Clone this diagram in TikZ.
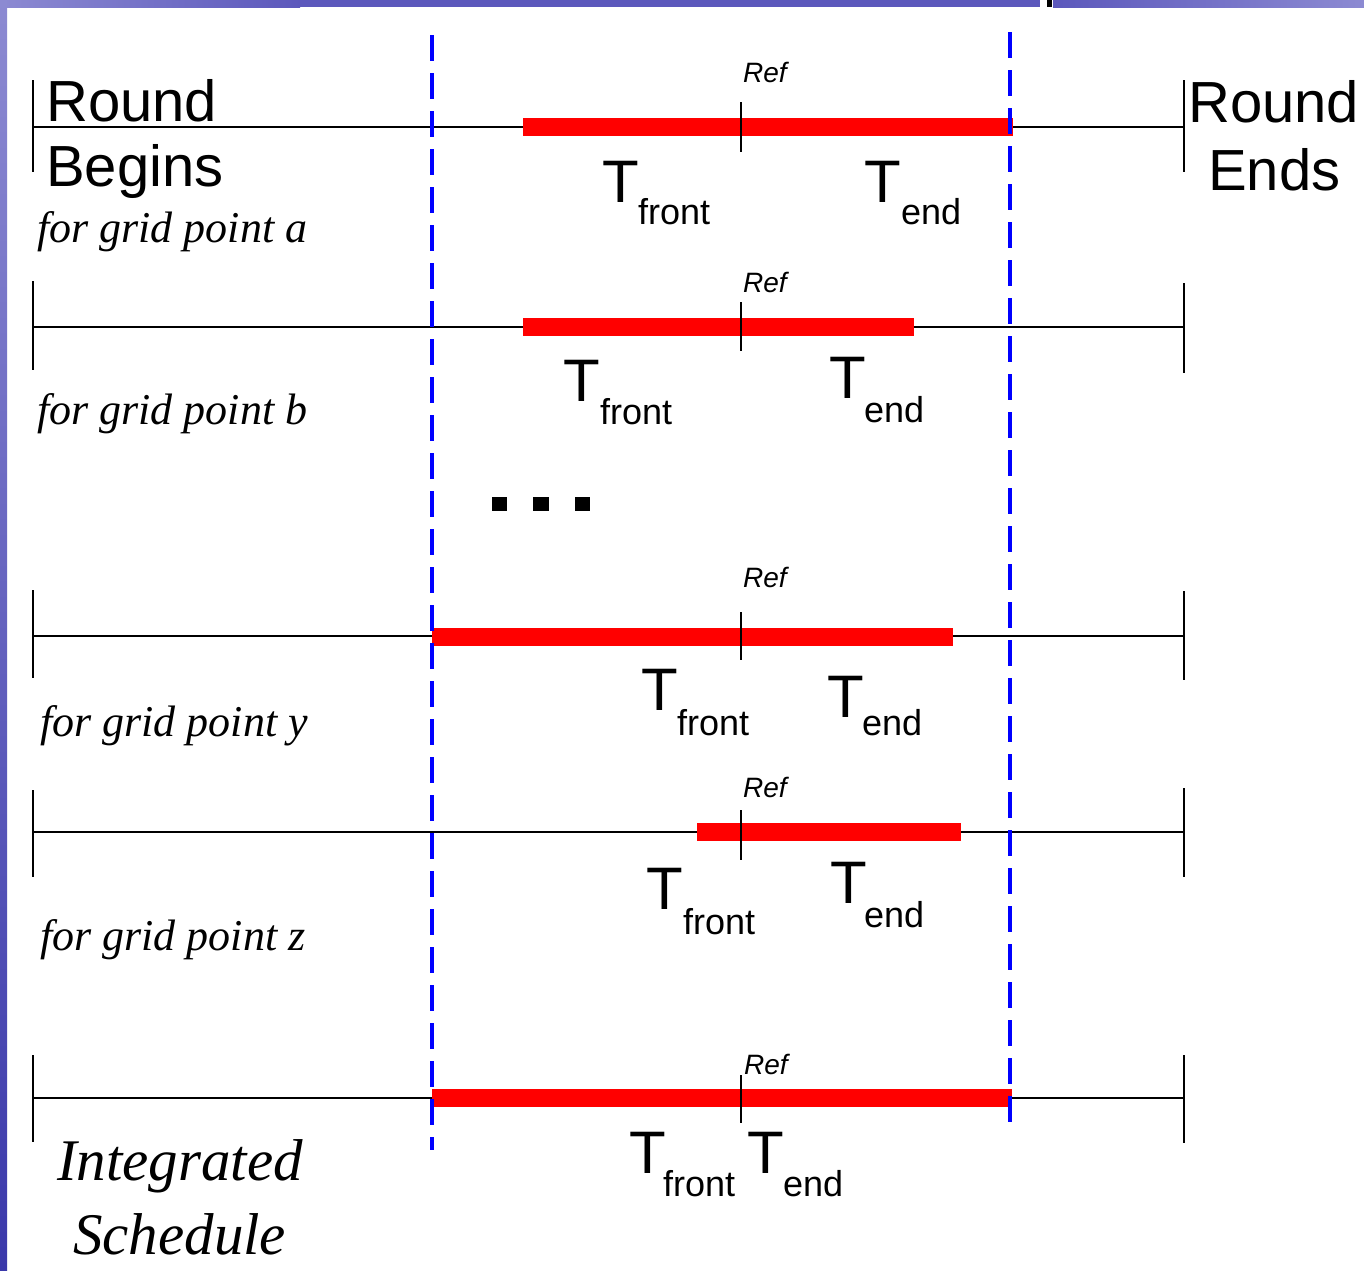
\documentclass[tikz,border=0pt]{standalone}
\usepackage{fontspec}
\setmainfont{Liberation Serif}
\setsansfont{Liberation Sans}
\definecolor{slidetop}{RGB}{92,88,188}
\definecolor{slidelight}{RGB}{140,138,210}
\definecolor{slidedark}{RGB}{58,56,170}
\begin{document}
\begin{tikzpicture}[x=1pt,y=-1pt,
  tline/.style={line width=2.2pt,black},
  tickln/.style={line width=2.2pt,black},
  reftick/.style={line width=1.8pt,black},
  redbar/.style={line width=18pt,red},
  bluedash/.style={line width=3.5pt,blue,dash pattern=on 26pt off 12pt},
  bigT/.style={font=\sffamily\fontsize{60}{60}\selectfont,anchor=base west,inner sep=0pt},
  subT/.style={font=\sffamily\fontsize{36}{36}\selectfont,anchor=base west,inner sep=0pt},
  reflab/.style={font=\sffamily\itshape\fontsize{28}{28}\selectfont,anchor=base west,inner sep=0pt},
  gridlab/.style={font=\rmfamily\itshape\fontsize{44}{44}\selectfont,anchor=base west,inner sep=0pt},
  roundlab/.style={font=\sffamily\fontsize{58}{58}\selectfont,anchor=base west,inner sep=0pt},
  intlab/.style={font=\rmfamily\itshape\fontsize{59}{59}\selectfont,anchor=base west,inner sep=0pt},
  dotsq/.style={fill=black,draw=none}
]
% canvas and slide frame
\path[use as bounding box,fill=white] (0,0) rectangle (1364,1270);
\shade[left color=slidelight,right color=slidetop] (0,0) rectangle (300,7);
\fill[slidetop] (300,0) rectangle (1040,7);
\shade[left color=slidetop,right color=slidelight] (1053,0) rectangle (1364,7);
\fill[black] (1047,0) rectangle (1052,7);
\shade[top color=slidelight,bottom color=slidedark] (0,0) rectangle (7,1270);

% ---- row a ----
\coordinate (aL) at (33,127);  \coordinate (aR) at (1184,127);
\coordinate (aLt) at (33,80);  \coordinate (aLb) at (33,172);
\coordinate (aRt) at (1184,80); \coordinate (aRb) at (1184,172);
\coordinate (aS) at (523,127); \coordinate (aE) at (1013,127);
\coordinate (aFt) at (741,102); \coordinate (aFb) at (741,152);
\draw[tline] (aL) -- (aR);
\draw[tickln] (aLt) -- (aLb);
\draw[tickln] (aRt) -- (aRb);
\draw[redbar] (aS) -- (aE);
\draw[reftick] (aFt) -- (aFb);
\node[reflab] (aRef) at (743,82) {Ref};
\node[bigT] (aT1) at (602,202) {T};
\node[subT] (aT1s) at (638,224) {front};
\node[bigT] (aT2) at (864,202) {T};
\node[subT] (aT2s) at (901,224) {end};
\node[gridlab] (aLab) at (37,242) {for grid point a};
\node[roundlab] (rb1) at (46,121) {Round};
\node[roundlab] (rb2) at (46,186) {Begins};
\node[roundlab] (re1) at (1188,122) {Round};
\node[roundlab] (re2) at (1208,190) {Ends};

% ---- row b ----
\coordinate (bL) at (33,327);  \coordinate (bR) at (1184,327);
\coordinate (bLt) at (33,281);  \coordinate (bLb) at (33,370);
\coordinate (bRt) at (1184,283); \coordinate (bRb) at (1184,373);
\coordinate (bS) at (523,327); \coordinate (bE) at (914,327);
\coordinate (bFt) at (741,302); \coordinate (bFb) at (741,351);
\draw[tline] (bL) -- (bR);
\draw[tickln] (bLt) -- (bLb);
\draw[tickln] (bRt) -- (bRb);
\draw[redbar] (bS) -- (bE);
\draw[reftick] (bFt) -- (bFb);
\node[reflab] (bRef) at (743,292) {Ref};
\node[bigT] (bT1) at (563,401) {T};
\node[subT] (bT1s) at (600,424) {front};
\node[bigT] (bT2) at (829,398) {T};
\node[subT] (bT2s) at (864,422) {end};
\node[gridlab] (bLab) at (37,424) {for grid point b};

% ---- dots ----
\fill[dotsq] (492,497) rectangle (507,511);
\fill[dotsq] (533,497) rectangle (549,511);
\fill[dotsq] (575,497) rectangle (590,511);

% ---- row y ----
\coordinate (yL) at (33,636);  \coordinate (yR) at (1184,636);
\coordinate (yLt) at (33,590);  \coordinate (yLb) at (33,678);
\coordinate (yRt) at (1184,591); \coordinate (yRb) at (1184,680);
\coordinate (yS) at (432,637); \coordinate (yE) at (953,637);
\coordinate (yFt) at (741,612); \coordinate (yFb) at (741,660);
\draw[tline] (yL) -- (yR);
\draw[tickln] (yLt) -- (yLb);
\draw[tickln] (yRt) -- (yRb);
\draw[redbar] (yS) -- (yE);
\draw[reftick] (yFt) -- (yFb);
\node[reflab] (yRef) at (743,587) {Ref};
\node[bigT] (yT1) at (641,710) {T};
\node[subT] (yT1s) at (677,735) {front};
\node[bigT] (yT2) at (827,717) {T};
\node[subT] (yT2s) at (862,735) {end};
\node[gridlab] (yLab) at (40,736) {for grid point y};

% ---- row z ----
\coordinate (zL) at (33,832);  \coordinate (zR) at (1184,832);
\coordinate (zLt) at (33,790);  \coordinate (zLb) at (33,877);
\coordinate (zRt) at (1184,788); \coordinate (zRb) at (1184,877);
\coordinate (zS) at (697,832); \coordinate (zE) at (961,832);
\coordinate (zFt) at (741,810); \coordinate (zFb) at (741,860);
\draw[tline] (zL) -- (zR);
\draw[tickln] (zLt) -- (zLb);
\draw[tickln] (zRt) -- (zRb);
\draw[redbar] (zS) -- (zE);
\draw[reftick] (zFt) -- (zFb);
\node[reflab] (zRef) at (743,797) {Ref};
\node[bigT] (zT1) at (646,909) {T};
\node[subT] (zT1s) at (683,934) {front};
\node[bigT] (zT2) at (830,903) {T};
\node[subT] (zT2s) at (864,927) {end};
\node[gridlab] (zLab) at (40,950) {for grid point z};

% ---- integrated ----
\coordinate (iL) at (33,1098);  \coordinate (iR) at (1184,1098);
\coordinate (iLt) at (33,1055);  \coordinate (iLb) at (33,1142);
\coordinate (iRt) at (1184,1055); \coordinate (iRb) at (1184,1143);
\coordinate (iS) at (432,1098); \coordinate (iE) at (1012,1098);
\coordinate (iFt) at (741,1075); \coordinate (iFb) at (741,1123);
\draw[tline] (iL) -- (iR);
\draw[tickln] (iLt) -- (iLb);
\draw[tickln] (iRt) -- (iRb);
\draw[redbar] (iS) -- (iE);
\draw[reftick] (iFt) -- (iFb);
\node[reflab] (iRef) at (744,1074) {Ref};
\node[bigT] (iT1) at (629,1173) {T};
\node[subT] (iT1s) at (663,1196) {front};
\node[bigT] (iT2) at (747,1173) {T};
\node[subT] (iT2s) at (783,1196) {end};
\node[intlab] (iLab1) at (57,1180) {Integrated};
\node[intlab] (iLab2) at (73,1254) {Schedule};

% ---- blue dashed boundaries ----
\coordinate (blT) at (432,35);  \coordinate (blB) at (432,1150);
\coordinate (brT) at (1010,32); \coordinate (brB) at (1010,1130);
\draw[bluedash] (blT) -- (blB);
\draw[bluedash] (brT) -- (brB);
\end{tikzpicture}
\end{document}
